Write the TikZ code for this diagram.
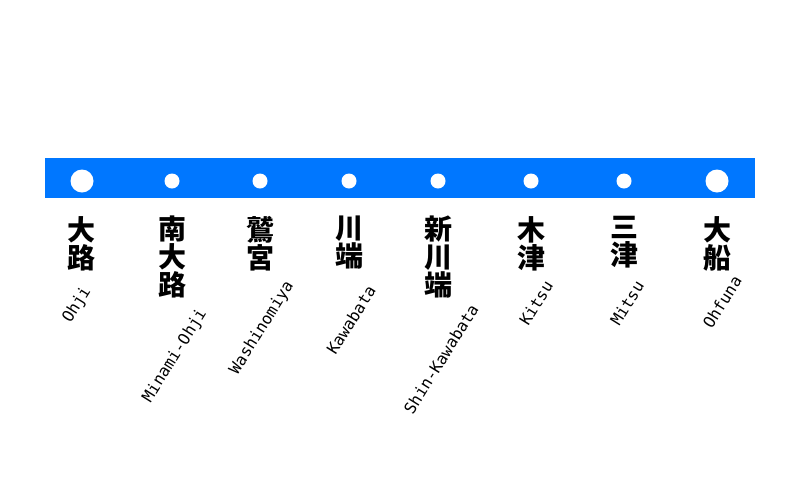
\documentclass[tikz,border=0pt]{standalone}
\usepackage{fontspec}
\newfontfamily\jpfont{Noto Sans CJK JP}
\newfontfamily\romfont{DejaVu Sans Mono}
\definecolor{lineblue}{RGB}{0,119,255}

\begin{document}
\begin{tikzpicture}[x=1pt, y=-1pt, line bar/.style={fill=lineblue, draw=none}, stop/.style={circle, fill=white, draw=none, inner sep=0pt, minimum size=15pt}, end stop/.style={stop, minimum size=23pt}, kanji/.style={anchor=north, inner sep=0pt, align=center, font=\jpfont\bfseries\fontsize{28}{28}\selectfont}, romaji/.style={rotate=58, inner sep=0pt, font=\romfont\fontsize{16}{16}\selectfont}]
\useasboundingbox (0,0) rectangle (800,480);
\fill [line bar] (45,158) rectangle (755,198);

\node [end stop] (ohji) at (82,181) {};
\node [stop] (minamiohji) at (172,181) {};
\node [stop] (washinomiya) at (260,181) {};
\node [stop] (kawabata) at (349,181) {};
\node [stop] (shinkawabata) at (438,181) {};
\node [stop] (kitsu) at (531,181) {};
\node [stop] (mitsu) at (624,181) {};
\node [end stop] (ohfuna) at (717,181) {};

\node [kanji] (ohji jp) at (81,216) {大\\路};
\node [kanji] (minamiohji jp) at (172,216) {南\\大\\路};
\node [kanji] (washinomiya jp) at (260,216) {鷲\\宮};
\node [kanji] (kawabata jp) at (349,216) {川\\端};
\node [kanji] (shinkawabata jp) at (438,216) {新\\川\\端};
\node [kanji] (kitsu jp) at (531,216) {木\\津};
\node [kanji] (mitsu jp) at (624,216) {三\\津};
\node [kanji] (ohfuna jp) at (717,216) {大\\船};

\node [romaji] (ohji en) at (77,305) {Ohji};
\node [romaji] (minamiohji en) at (175,356) {Minami-Ohji};
\node [romaji] (washinomiya en) at (262,328) {Washinomiya};
\node [romaji] (kawabata en) at (351,320) {Kawabata};
\node [romaji] (shinkawabata en) at (441,359) {Shin-Kawabata};
\node [romaji] (kitsu en) at (536,303) {Kitsu};
\node [romaji] (mitsu en) at (627,303) {Mitsu};
\node [romaji] (ohfuna en) at (722,302) {Ohfuna};
\end{tikzpicture}
\end{document}
